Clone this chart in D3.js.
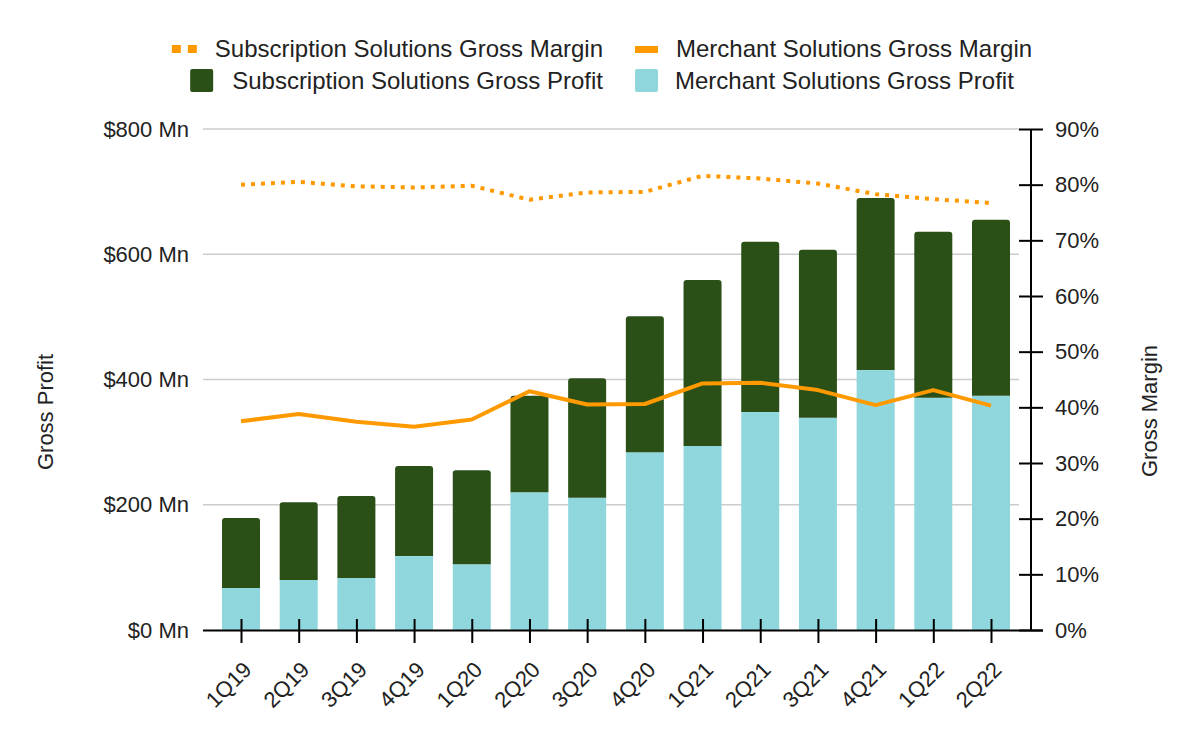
<!DOCTYPE html>
<html>
<head>
<meta charset="utf-8">
<script src="https://cdn.jsdelivr.net/npm/d3@7"></script>
<style>
  html, body { margin: 0; padding: 0; background: #ffffff; }
  svg { display: block; font-family: "Liberation Sans", Arial, sans-serif; }
</style>
</head>
<body>
<svg id="chart" width="1200" height="742"></svg>
<script>
const categories = ["1Q19","2Q19","3Q19","4Q19","1Q20","2Q20","3Q20","4Q20","1Q21","2Q21","3Q21","4Q21","1Q22","2Q22"];
const merchantProfit = [67, 80, 83, 118, 105, 220, 211, 284, 294, 348, 339, 415, 371, 374];
const subscriptionProfit = [112, 124, 131, 144, 150, 154, 191, 217, 265, 272, 268, 275, 265, 281];
const subscriptionMargin = [80.0, 80.5, 79.7, 79.5, 79.8, 77.3, 78.6, 78.7, 81.6, 81.1, 80.2, 78.3, 77.4, 76.7];
const merchantMargin = [37.5, 38.8, 37.4, 36.5, 37.8, 42.9, 40.5, 40.6, 44.3, 44.4, 43.1, 40.4, 43.1, 40.3];
const leftTicks = [0, 200, 400, 600, 800];
const rightTicks = [0, 10, 20, 30, 40, 50, 60, 70, 80, 90];

const COL_SUB = "#2a4f17";
const COL_MER = "#8fd7dc";
const COL_LINE = "#ff9900";
const TEXT = "#222222";
const FS = 22;

const svg = d3.select("#chart");

const x = d3.scalePoint().domain(categories).range([241, 991]);
const barW = 38;
const yL = d3.scaleLinear().domain([0, 800]).range([630, 129]);
const yR = d3.scaleLinear().domain([0, 90]).range([630, 129]);

// gridlines
svg.append("g").selectAll("line")
  .data(leftTicks.filter(d => d > 0))
  .join("line")
  .attr("x1", 203).attr("x2", 1019)
  .attr("y1", d => yL(d)).attr("y2", d => yL(d))
  .attr("stroke", "#cccccc").attr("stroke-width", 1.6);

// left axis labels
const gL = svg.append("g").attr("transform", "translate(203,0)")
  .call(d3.axisLeft(yL).tickValues(leftTicks).tickSize(0).tickPadding(14).tickFormat(d => "$" + d + " Mn"));
gL.select(".domain").remove();
gL.selectAll("text").attr("font-size", FS).attr("fill", TEXT).attr("font-family", "Liberation Sans, Arial, sans-serif");

// bars
const rounded = (x0, y0, w, h, r) => {
  r = Math.min(r, h);
  return `M${x0},${y0 + h}V${y0 + r}Q${x0},${y0} ${x0 + r},${y0}H${x0 + w - r}Q${x0 + w},${y0} ${x0 + w},${y0 + r}V${y0 + h}Z`;
};
const bars = svg.append("g");
bars.selectAll("rect.mer")
  .data(categories)
  .join("rect")
  .attr("class", "mer")
  .attr("x", d => x(d) - barW / 2)
  .attr("width", barW)
  .attr("y", (d, i) => yL(merchantProfit[i]))
  .attr("height", (d, i) => yL(0) - yL(merchantProfit[i]))
  .attr("fill", COL_MER);
bars.selectAll("path.sub")
  .data(categories)
  .join("path")
  .attr("class", "sub")
  .attr("d", (d, i) => {
    const top = yL(merchantProfit[i] + subscriptionProfit[i]);
    const bottom = yL(merchantProfit[i]);
    return rounded(x(d) - barW / 2, top, barW, bottom - top, 3);
  })
  .attr("fill", COL_SUB);

// lines
const lineGen = arr => d3.line().x((d, i) => x(categories[i])).y(d => yR(d))(arr);
svg.append("path")
  .attr("d", lineGen(merchantMargin))
  .attr("fill", "none").attr("stroke", COL_LINE).attr("stroke-width", 4)
  .attr("stroke-linejoin", "round");
svg.append("path")
  .attr("d", lineGen(subscriptionMargin))
  .attr("fill", "none").attr("stroke", COL_LINE).attr("stroke-width", 4)
  .attr("stroke-dasharray", "4,6");

// bottom axis
const gB = svg.append("g").attr("transform", "translate(0,619)")
  .call(d3.axisBottom(x).tickSize(24).tickFormat(""));
gB.select(".domain").remove();
gB.selectAll("line").attr("stroke", "#000").attr("stroke-width", 2);
svg.append("line").attr("x1", 203).attr("x2", 1043).attr("y1", 630.5).attr("y2", 630.5)
  .attr("stroke", "#000").attr("stroke-width", 2);

svg.append("g").selectAll("text")
  .data(categories)
  .join("text")
  .attr("transform", d => `translate(${x(d) + 12},671) rotate(-45)`)
  .attr("text-anchor", "end")
  .attr("font-size", FS).attr("fill", TEXT)
  .text(d => d);

// right axis
const gR = svg.append("g").attr("transform", "translate(1019,0)")
  .call(d3.axisRight(yR).tickValues(rightTicks).tickSize(24).tickPadding(12).tickFormat(d => d + "%"));
gR.select(".domain").remove();
gR.selectAll("line").attr("stroke", "#000").attr("stroke-width", 2);
gR.selectAll("text").attr("font-size", FS).attr("fill", TEXT).attr("font-family", "Liberation Sans, Arial, sans-serif");
svg.append("line").attr("x1", 1031).attr("x2", 1031).attr("y1", yR(90)).attr("y2", 631)
  .attr("stroke", "#000").attr("stroke-width", 2);

// axis titles
svg.append("text").attr("transform", "translate(53,412) rotate(-90)")
  .attr("text-anchor", "middle").attr("font-size", FS).attr("fill", TEXT).text("Gross Profit");
svg.append("text").attr("transform", "translate(1157,411) rotate(-90)")
  .attr("text-anchor", "middle").attr("font-size", FS).attr("fill", TEXT).text("Gross Margin");

// legend
const LFS = 24;
const lg = svg.append("g").attr("font-size", LFS).attr("fill", TEXT);
// row 1 col 1 (right aligned at 603)
const t1 = lg.append("text").attr("x", 603).attr("y", 48).attr("text-anchor", "end")
  .attr("dominant-baseline", "central").text("Subscription Solutions Gross Margin");
const w1 = t1.node().getComputedTextLength();
lg.append("rect").attr("x", 603 - w1 - 18 - 25).attr("y", 45).attr("width", 9).attr("height", 8).attr("fill", COL_LINE);
lg.append("rect").attr("x", 603 - w1 - 18 - 9).attr("y", 45).attr("width", 9).attr("height", 8).attr("fill", COL_LINE);
// row 1 col 2
lg.append("rect").attr("x", 635).attr("y", 46).attr("width", 23).attr("height", 7).attr("fill", COL_LINE);
lg.append("text").attr("x", 676).attr("y", 48).attr("dominant-baseline", "central").text("Merchant Solutions Gross Margin");
// row 2 col 1
const t3 = lg.append("text").attr("x", 603).attr("y", 80).attr("text-anchor", "end")
  .attr("dominant-baseline", "central").text("Subscription Solutions Gross Profit");
const w3 = t3.node().getComputedTextLength();
lg.append("rect").attr("x", 603 - w3 - 19 - 23).attr("y", 69).attr("width", 23).attr("height", 23).attr("rx", 2).attr("fill", COL_SUB);
// row 2 col 2
lg.append("rect").attr("x", 635).attr("y", 69).attr("width", 23).attr("height", 23).attr("rx", 2).attr("fill", COL_MER);
lg.append("text").attr("x", 675).attr("y", 80).attr("dominant-baseline", "central").text("Merchant Solutions Gross Profit");
</script>
</body>
</html>
